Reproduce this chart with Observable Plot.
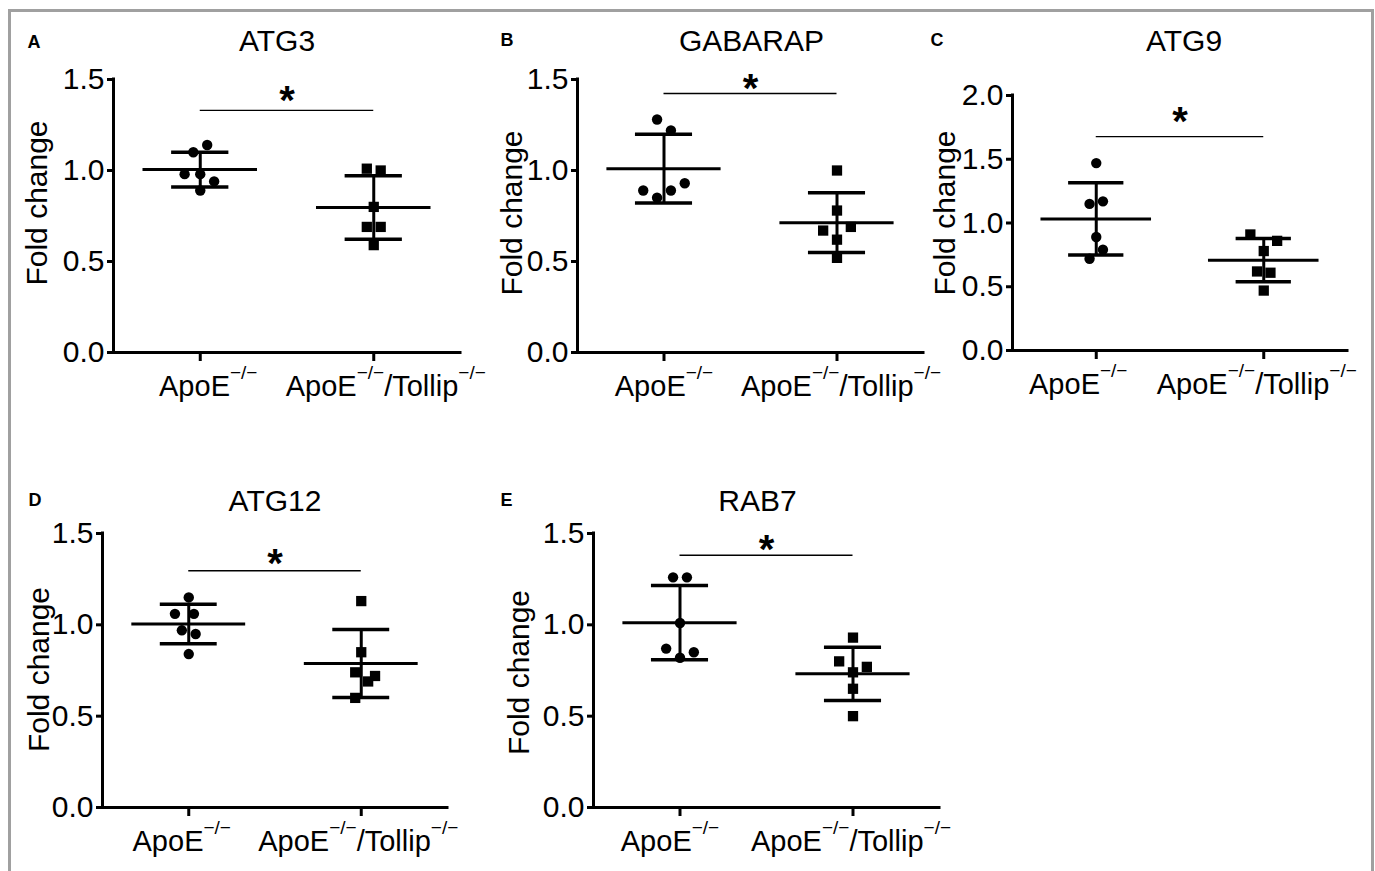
<!DOCTYPE html>
<html><head><meta charset="utf-8">
<script src="https://cdn.jsdelivr.net/npm/d3@7"></script>
<script src="https://cdn.jsdelivr.net/npm/@observablehq/plot@0.6"></script>
<style>
body{margin:0;background:#fff;}
#fig{position:relative;width:1375px;height:871px;overflow:hidden;font-family:"Liberation Sans",Arial,sans-serif;}
#border{position:absolute;left:8px;top:9px;width:1366px;height:900px;border:3.5px solid #a0a0a0;box-sizing:border-box;}
.panel{position:absolute;}
</style></head><body><div id="fig"><div id="border"></div></div>
<script>
// ---- data ----
const genes = ["ATG3", "GABARAP", "ATG9", "ATG12", "RAB7"];
const letters = ["A", "B", "C", "D", "E"];
const groupPlain = ["ApoE−/−", "ApoE−/−/Tollip−/−"];
// tick label segments: [text, isSuperscript]
const groupLabel1 = [["ApoE", 0], ["−/−", 1]];
const groupLabel2 = [["ApoE", 0], ["−/−", 1], ["/Tollip", 0], ["−/−", 1]];
const yMax = [1.5, 1.5, 2.0, 1.5, 1.5];
const yTicks15 = [0, 0.5, 1.0, 1.5];
const yTicks20 = [0, 0.5, 1.0, 1.5, 2.0];
const sigY = [1.33, 1.423, 1.678, 1.296, 1.381];
const starY = [1.308, 1.379, 1.694, 1.263, 1.339];

const atg3Apoe = [1.10, 1.14, 0.98, 0.98, 0.94, 0.89];
const atg3ApoeDx = [-0.04, 0.04, -0.09, 0, 0.08, 0];
const atg3Dko = [1.01, 1.00, 0.80, 0.69, 0.69, 0.59];
const atg3DkoDx = [-0.04, 0.04, 0, -0.04, 0.04, 0];

const gabarapApoe = [1.28, 1.22, 0.89, 0.85, 0.89, 0.93];
const gabarapApoeDx = [-0.04, 0.04, -0.12, -0.04, 0.04, 0.12];
const gabarapDko = [1.00, 0.78, 0.67, 0.69, 0.62, 0.52];
const gabarapDkoDx = [0, 0, -0.08, 0.08, 0, 0];

const atg9Apoe = [1.47, 1.15, 1.17, 0.89, 0.79, 0.72];
const atg9ApoeDx = [0, -0.04, 0.04, 0, 0.04, -0.04];
const atg9Dko = [0.91, 0.86, 0.78, 0.62, 0.61, 0.47];
const atg9DkoDx = [-0.08, 0.08, 0, -0.04, 0.04, 0];

const atg12Apoe = [1.15, 1.06, 1.06, 0.97, 0.95, 0.84];
const atg12ApoeDx = [0, -0.08, 0.03, -0.04, 0.04, 0];
const atg12Dko = [1.13, 0.85, 0.74, 0.72, 0.69, 0.60];
const atg12DkoDx = [0, 0, -0.035, 0.08, 0.04, -0.035];

const rab7Apoe = [1.26, 1.26, 1.01, 0.87, 0.85, 0.82];
const rab7ApoeDx = [-0.04, 0.04, 0, -0.08, 0.08, 0];
const rab7Dko = [0.93, 0.80, 0.77, 0.74, 0.65, 0.50];
const rab7DkoDx = [0, -0.08, 0.08, 0, 0, 0];

// ---- layout (pixel geometry of each panel) ----
const layouts = [
  {x0:12, y0:12, x1:475, y1:432, L:113, R:460, T:79, B:352, tdx:-10, tdy:-29, ldx:-76, ldy:-13, cdx:-86, cdy:-32, lab:[8, 12]},
  {x0:475, y0:12, x1:930, y1:432, L:577, R:923, T:79, B:352, tdx:1, tdy:-29, ldx:-65, ldy:-3, cdx:-77, cdy:-34, lab:[0, 4]},
  {x0:930, y0:12, x1:1366, y1:432, L:1012, R:1347, T:95, B:350, tdx:4, tdy:-45, ldx:-67, ldy:-10, cdx:-82, cdy:-50, lab:[-18, -7]},
  {x0:12, y0:440, x1:475, y1:868, L:102, R:447, T:533, B:807, tdx:0, tdy:-23, ldx:-63, ldy:-1, cdx:-74, cdy:-28, lab:[-7, -3]},
  {x0:475, y0:440, x1:960, y1:868, L:593, R:939, T:533, B:807, tdx:-9, tdy:-23, ldx:-74, ldy:2, cdx:-93, cdy:-28, lab:[-10, -2]}
];
const series = [
  [atg3Apoe, atg3ApoeDx, atg3Dko, atg3DkoDx],
  [gabarapApoe, gabarapApoeDx, gabarapDko, gabarapDkoDx],
  [atg9Apoe, atg9ApoeDx, atg9Dko, atg9DkoDx],
  [atg12Apoe, atg12ApoeDx, atg12Dko, atg12DkoDx],
  [rab7Apoe, rab7ApoeDx, rab7Dko, rab7DkoDx]
];
const FONT = '"Liberation Sans", Arial, Helvetica, sans-serif';
const fig = document.getElementById("fig");

series.forEach(([apoe, apoeDx, dko, dkoDx], i) => {
  const lay = layouts[i];
  const circles = apoe.map((v, j) => ({x: 1 + apoeDx[j], y: v}));
  const squares = dko.map((v, j) => ({x: 2 + dkoDx[j], y: v}));
  const stats = [apoe, dko].map((arr, k) => ({g: k + 1, m: d3.mean(arr), s: d3.deviation(arr)}));
  const svg = Plot.plot({
    width: lay.x1 - lay.x0,
    height: lay.y1 - lay.y0,
    marginLeft: lay.L - lay.x0,
    marginRight: lay.x1 - lay.R,
    marginTop: lay.T - lay.y0,
    marginBottom: lay.y1 - lay.B,
    x: {type: "linear", domain: [0.5, 2.5], label: null},
    y: {domain: [0, yMax[i]], label: null},
    style: {fontFamily: FONT, fontSize: "30px", background: "transparent", overflow: "visible", color: "black"},
    marks: [
      Plot.axisY({ticks: yMax[i] === 2 ? yTicks20 : yTicks15, tickFormat: d3.format(".1f"), tickSize: 6, tickPadding: 3, strokeWidth: 3, fontSize: 30, label: null}),
      Plot.axisX({ticks: [1, 2], tickFormat: d => groupPlain[d - 1], tickSize: 9, tickPadding: 14, strokeWidth: 3, fontSize: 29, label: null}),
      Plot.ruleX([0.5], {stroke: "black", strokeWidth: 3, strokeLinecap: "square"}),
      Plot.ruleY([0], {stroke: "black", strokeWidth: 3, strokeLinecap: "square"}),
      Plot.dot(circles, {x: "x", y: "y", symbol: "circle", r: 5.2, fill: "black"}),
      Plot.dot(squares, {x: "x", y: "y", symbol: "square", r: 5.8, fill: "black"}),
      Plot.ruleY(stats, {y: "m", x1: d => d.g - 0.33, x2: d => d.g + 0.33, stroke: "black", strokeWidth: 3}),
      Plot.ruleY(stats, {y: d => d.m + d.s, x1: d => d.g - 0.165, x2: d => d.g + 0.165, stroke: "black", strokeWidth: 3.5}),
      Plot.ruleY(stats, {y: d => d.m - d.s, x1: d => d.g - 0.165, x2: d => d.g + 0.165, stroke: "black", strokeWidth: 3.5}),
      Plot.ruleX(stats, {x: "g", y1: d => d.m - d.s, y2: d => d.m + d.s, stroke: "black", strokeWidth: 3}),
      Plot.ruleY([sigY[i]], {y: d => d, x1: 1, x2: 2, stroke: "black", strokeWidth: 1.3}),
      Plot.text([starY[i]], {x: 1.5, y: d => d, text: () => "*", fontSize: 40, fontWeight: "bold", lineAnchor: "bottom"}),
      Plot.text([genes[i]], {frameAnchor: "top", text: d => d, textAnchor: "middle", dx: lay.tdx, dy: lay.tdy, lineAnchor: "bottom", fontSize: 30}),
      Plot.text([letters[i]], {frameAnchor: "top-left", text: d => d, textAnchor: "start", dx: lay.cdx, dy: lay.cdy, lineAnchor: "bottom", fontSize: 18, fontWeight: "bold"}),
      Plot.text(["Fold change"], {frameAnchor: "left", text: d => d, textAnchor: "middle", rotate: -90, dx: lay.ldx, dy: lay.ldy, fontSize: 30})
    ]
  });
  // superscripts in the category tick labels
  d3.select(svg).selectAll('g[aria-label="x-axis tick label"] text').each(function() {
    const idx = groupPlain.indexOf(this.textContent);
    if (idx < 0) return;
    const segs = idx === 0 ? groupLabel1 : groupLabel2;
    const t = d3.select(this);
    t.text(null);
    let raised = false;
    segs.forEach(([s, sup], k) => {
      const ts = t.append("tspan").text(s);
      if (k === 0) ts.attr("dx", lay.lab[idx]);
      if (sup) {
        ts.attr("font-size", 19);
        if (!raised) { ts.attr("dy", -17); raised = true; }
      } else if (raised) {
        ts.attr("dy", 17); raised = false;
      }
    });
  });
  svg.classList.add("panel");
  svg.style.left = lay.x0 + "px";
  svg.style.top = lay.y0 + "px";
  svg.style.position = "absolute";
  svg.style.maxWidth = "none";
  fig.appendChild(svg);
});
</script></body></html>
